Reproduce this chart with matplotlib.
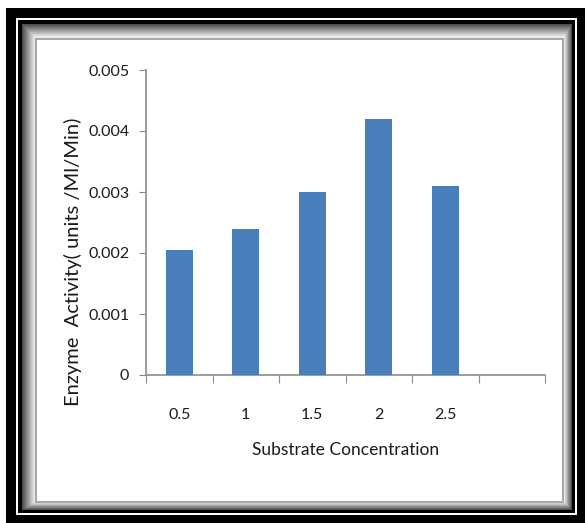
import matplotlib
matplotlib.use("Agg")
import matplotlib.pyplot as plt
from matplotlib.patches import Rectangle
import numpy as np

concentration = ["0.5", "1", "1.5", "2", "2.5"]
activity = [0.00205, 0.0024, 0.0030, 0.0042, 0.0031]
y_ticks = [0, 0.001, 0.002, 0.003, 0.004, 0.005]
y_tick_labels = ["0", "0.001", "0.002", "0.003", "0.004", "0.005"]

plt.rcParams["font.family"] = ["Lato", "DejaVu Sans"]

W, H = 585, 523
fig = plt.figure(figsize=(W / 100, H / 100), dpi=100)
fig.patch.set_facecolor("white")


def box(x0, y0, x1, y1, color, edge="none", lw=0):
    # pixel box (origin top-left) -> figure fraction rectangle
    r = Rectangle((x0 / W, 1 - y1 / H), (x1 - x0) / W, (y1 - y0) / H,
                  transform=fig.transFigure, facecolor=color,
                  edgecolor=edge, linewidth=lw, zorder=-10)
    fig.add_artist(r)


# picture frame: thick black, thin white, thin black, shaded bevel
box(6, 8, 585, 523, "black")
box(16, 18, 577, 515, "white")
box(18, 20, 575, 513, "black")
n = 13
for i in range(n):
    g = 0.30 + 0.62 * i / (n - 1)
    box(22 + i, 24 + i, 572 - i * 0.6, 510 - i * 0.6, (g, g, g))
box(35, 38, 564, 503, "#a8a8a8")
box(37, 40, 562, 501, "white")

ax = fig.add_axes([146 / W, 1 - 375 / H, (545 - 146) / W, (375 - 70) / H])
ax.set_facecolor("none")

# six category slots, the last one left empty
x = np.arange(len(concentration))
ax.bar(x, activity, width=0.4, color="#4a7ebb", zorder=3)
ax.set_xlim(-0.5, 5.5)
ax.set_ylim(0, 0.005)

ax.set_yticks(y_ticks)
ax.set_yticklabels(y_tick_labels)
ax.set_xticks(np.arange(-0.5, 6.0, 1.0))
ax.set_xticklabels([])
ax.set_xticks(x, minor=True)
ax.set_xticklabels(concentration, minor=True)

for s in ["top", "right"]:
    ax.spines[s].set_visible(False)
for s in ["left", "bottom"]:
    ax.spines[s].set_color("#8c8c8c")
    ax.spines[s].set_linewidth(1.2)

ax.tick_params(axis="y", which="major", length=5, color="#8c8c8c",
               labelsize=11.5, pad=7, labelcolor="#1a1a1a")
ax.tick_params(axis="x", which="major", length=6, color="#8c8c8c")
ax.tick_params(axis="x", which="minor", length=0, labelsize=11.5, pad=24,
               labelcolor="#1a1a1a")

ax.set_xlabel("Substrate Concentration", fontsize=12.5, color="#1a1a1a",
              labelpad=14)
fig.text(73 / W, 1 - 262 / H, "Enzyme  Activity( units /Ml/Min)",
         rotation=90, ha="center", va="center", fontsize=14.5,
         color="#1a1a1a")

fig.savefig("out.png", dpi=100)
